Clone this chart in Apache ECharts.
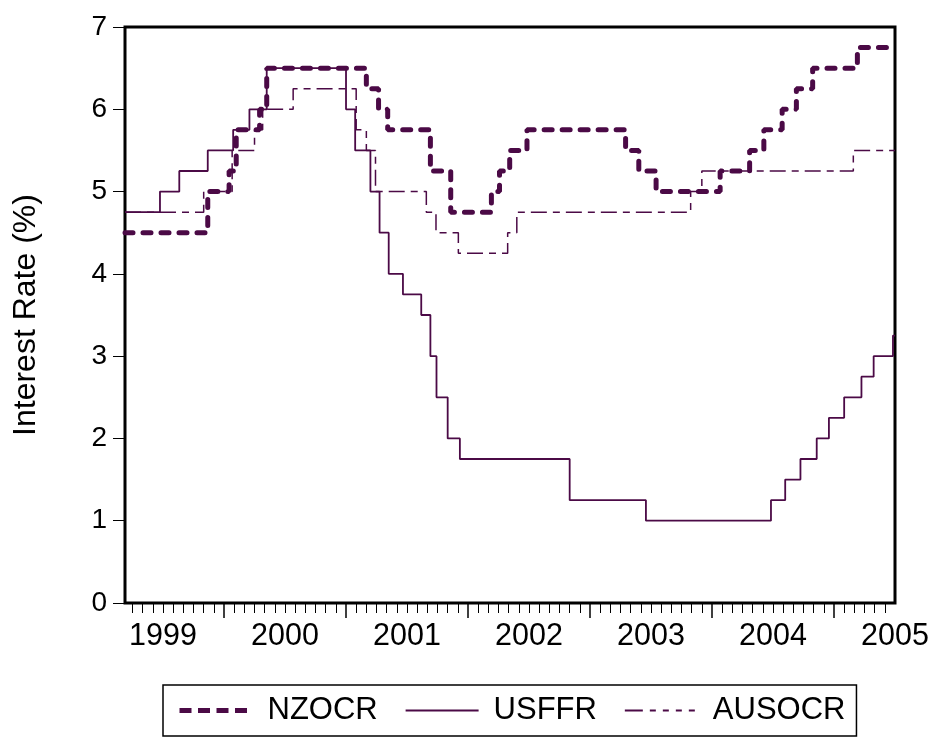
<!DOCTYPE html>
<html><head><meta charset="utf-8">
<script src="https://cdn.jsdelivr.net/npm/echarts@6/dist/echarts.min.js"></script>
<style>html,body{margin:0;padding:0;background:#fff}#c{width:938px;height:738px}</style>
</head><body><div id="c"></div>
<script>
// x values are months since January 1999 (0 = Jan 1999); each point starts a new rate level
const xStart = 2.26, xEnd = 78;
const yearLabels = ['1999','2000','2001','2002','2003','2004','2005'];
const yearLabelPos = [6, 18, 30, 42, 54, 66, 78];
const yearTickPos = [12, 24, 36, 48, 60, 72];
const seriesNames = ['NZOCR', 'USFFR', 'AUSOCR'];

const nzocrX = [2.26, 10.4, 12.5, 13.2, 15.5, 16.2, 26.0, 27.2, 28.1, 32.3, 34.3, 38.3, 39.1, 40.1, 41.8, 51.5, 52.8, 54.5, 60.8, 63.7, 65.1, 66.9, 68.3, 69.9, 74.3, 78];
const nzocrY = [4.5, 5.0, 5.25, 5.75, 6.0, 6.5, 6.25, 6.0, 5.75, 5.25, 4.75, 5.0, 5.25, 5.5, 5.75, 5.5, 5.25, 5.0, 5.25, 5.5, 5.75, 6.0, 6.25, 6.5, 6.75, 6.75];

const usffrX = [2.26, 5.7, 7.6, 10.4, 12.9, 14.5, 16.2, 24.0, 24.9, 26.4, 27.3, 28.2, 29.6, 31.4, 32.3, 32.9, 34.0, 35.2, 46.0, 53.5, 65.8, 67.2, 68.7, 70.3, 71.5, 73.0, 74.7, 75.9, 77.8, 78];
const usffrY = [4.75, 5.0, 5.25, 5.5, 5.75, 6.0, 6.5, 6.0, 5.5, 5.0, 4.5, 4.0, 3.75, 3.5, 3.0, 2.5, 2.0, 1.75, 1.25, 1.0, 1.25, 1.5, 1.75, 2.0, 2.25, 2.5, 2.75, 3.0, 3.25, 3.25];

const ausocrX = [2.26, 10.0, 12.8, 15.0, 15.8, 18.8, 25.0, 26.0, 26.9, 31.9, 32.85, 35.05, 39.9, 40.8, 57.9, 59.0, 73.9, 78];
const ausocrY = [4.75, 5.0, 5.5, 5.75, 6.0, 6.25, 5.75, 5.5, 5.0, 4.75, 4.5, 4.25, 4.5, 4.75, 5.0, 5.25, 5.5, 5.5];

const zip = (xs, ys) => xs.map((x, i) => [x, ys[i]]);
const monthTicks = [];
for (let m = Math.ceil(xStart); m < xEnd; m++) if (m % 12 !== 0) monthTicks.push(m);

const col = '#4b0a46';
const font = 'Liberation Sans, Arial, sans-serif';
const hidden = {color: 'rgba(0,0,0,0)', borderColor: 'rgba(0,0,0,0)', borderWidth: 0, opacity: 0};
const styles = [
  {color: col, width: 5, type: [8, 10], cap: 'round'},
  {color: col, width: 1.8, type: 'solid'},
  {color: col, width: 1.5, type: [16, 6, 7, 6]}
];
const legendStyles = [
  {color: col, width: 5, type: [12, 6.5], cap: 'butt'},
  {color: col, width: 1.8, type: 'solid'},
  {color: col, width: 1.8, type: [18, 7, 6, 7, 6, 7, 6, 7, 6, 20]}
];
const chart = echarts.init(document.getElementById('c'), null, {renderer: 'canvas'});
chart.setOption({
  animation: false,
  backgroundColor: '#fff',
  grid: {left: 125, right: 43, top: 27, bottom: 135, show: true, borderColor: '#000', borderWidth: 3},
  xAxis: [{
    type: 'value', min: xStart, max: xEnd,
    axisLine: {show: false},
    axisTick: {show: true, customValues: yearTickPos, length: 15, lineStyle: {color: '#000', width: 1.5}},
    axisLabel: {customValues: yearLabelPos, formatter: v => yearLabels[yearLabelPos.indexOf(v)] || '',
      fontSize: 30.5, color: '#000', margin: 18, fontFamily: font},
    splitLine: {show: false}
  }, {
    type: 'value', min: xStart, max: xEnd, position: 'bottom',
    axisLine: {show: false},
    axisTick: {show: true, customValues: monthTicks, length: 10, lineStyle: {color: '#000', width: 1}},
    axisLabel: {show: false},
    splitLine: {show: false}
  }],
  yAxis: {
    type: 'value', min: 0, max: 7, interval: 1,
    axisLine: {show: false},
    axisTick: {show: true, length: 12, lineStyle: {color: '#000', width: 1}},
    axisLabel: {fontSize: 28, color: '#000', margin: 18, fontFamily: font},
    splitLine: {show: false},
    name: 'Interest Rate (%)', nameLocation: 'middle', nameRotate: 90, nameGap: 83,
    nameTextStyle: {fontSize: 32, color: '#000', fontFamily: font}
  },
  legend: {
    left: 163, top: 685, orient: 'horizontal',
    borderColor: '#000', borderWidth: 1.5, padding: [10, 11, 10, 14],
    itemGap: 27, itemWidth: 73, itemHeight: 14,
    itemStyle: hidden,
    textStyle: {fontSize: 31, color: '#000', fontFamily: font, padding: [0, 0, 0, 10]},
    data: seriesNames.map((n, i) => ({name: n, itemStyle: hidden, lineStyle: legendStyles[i]}))
  },
  series: [
    {name: seriesNames[0], type: 'line', step: 'end', symbol: 'none', data: zip(nzocrX, nzocrY),
     lineStyle: styles[0], itemStyle: {color: col}},
    {name: seriesNames[1], type: 'line', step: 'end', symbol: 'none', data: zip(usffrX, usffrY),
     lineStyle: styles[1], itemStyle: {color: col}},
    {name: seriesNames[2], type: 'line', step: 'end', symbol: 'none', data: zip(ausocrX, ausocrY),
     lineStyle: styles[2], itemStyle: {color: col}}
  ]
});
</script></body></html>
